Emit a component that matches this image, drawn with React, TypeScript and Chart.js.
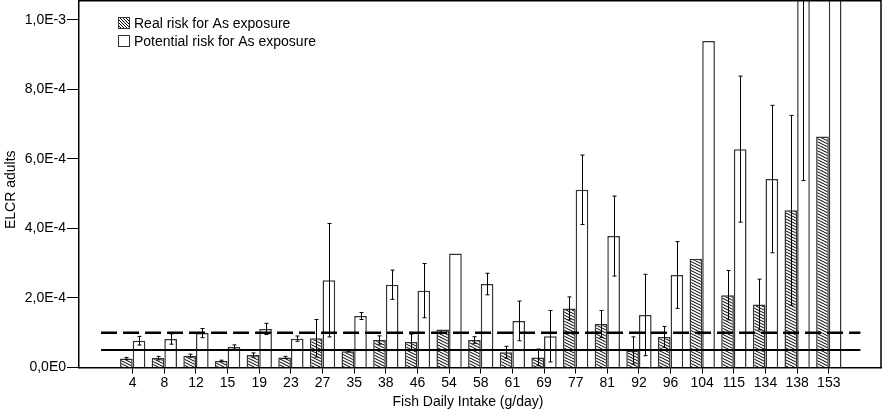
import React, { useEffect, useRef } from 'react';
import { Chart, registerables } from 'chart.js';

Chart.register(...registerables);

// ---------------- data ----------------
const categories = ['4', '8', '12', '15', '19', '23', '27', '35', '38', '46', '54', '58', '61', '69', '77', '81', '92', '96', '104', '115', '134', '138', '153'];

const realRisk = [2.6e-5, 2.7e-5, 3.4e-5, 1.9e-5, 3.6e-5, 2.9e-5, 8.4e-5, 4.7e-5, 7.9e-5, 7.3e-5, 1.09e-4, 7.9e-5, 4.4e-5, 2.9e-5, 1.70e-4, 1.25e-4, 4.9e-5, 8.8e-5, 3.13e-4, 2.08e-4, 1.81e-4, 4.52e-4, 6.64e-4];
const realErr: (number | null)[] = [0.3e-5, 0.5e-5, 0.45e-5, 0.2e-5, 0.6e-5, 0.3e-5, 5.4e-5, 0.2e-5, 1.2e-5, 2.3e-5, null, 0.95e-5, 1.7e-5, 2.4e-5, 3.3e-5, 3.9e-5, 3.9e-5, 3.0e-5, null, 7.1e-5, 7.3e-5, 2.73e-4, null];

const potentialRisk = [7.7e-5, 8.2e-5, 9.9e-5, 5.9e-5, 1.11e-4, 8.3e-5, 2.51e-4, 1.48e-4, 2.38e-4, 2.21e-4, 3.28e-4, 2.40e-4, 1.34e-4, 9.0e-5, 5.11e-4, 3.78e-4, 1.51e-4, 2.66e-4, 9.39e-4, 6.28e-4, 5.42e-4, 1.25e-3, 1.6e-3];
const potentialErr: (number | null)[] = [1.25e-5, 1.5e-5, 1.3e-5, 0.6e-5, 1.6e-5, 0.75e-5, 1.63e-4, 1.0e-5, 4.2e-5, 7.8e-5, null, 3.1e-5, 5.7e-5, 7.4e-5, 1.0e-4, 1.15e-4, 1.17e-4, 9.6e-5, null, 2.1e-4, 2.12e-4, 7.12e-4, null];

const yTickValues = [0, 2e-4, 4e-4, 6e-4, 8e-4, 1e-3];
const yMax = 1.054e-3;
const dashedLimit = 1e-4;
const solidLimit = 5e-5;
const limitSpan = [-1, 23];

const legendLabels = ['Real risk for As exposure', 'Potential risk for As exposure'];
const xTitle = 'Fish Daily Intake (g/day)';
const yTitle = 'ELCR adults';

const FONT = "'Liberation Sans', Arial, Helvetica, sans-serif";

function makeHatch(w: number, h: number, lw: number) {
  const c = document.createElement('canvas');
  c.width = w;
  c.height = h;
  const g = c.getContext('2d')!;
  g.fillStyle = '#ffffff';
  g.fillRect(0, 0, w, h);
  g.strokeStyle = '#000000';
  g.lineWidth = lw;
  for (const dy of [-h, 0, h]) {
    g.beginPath();
    g.moveTo(0, dy);
    g.lineTo(w, dy + h);
    g.stroke();
  }
  return g.createPattern(c, 'repeat')!;
}

function fmtExp(v: number) {
  if (Math.abs(v) < 1e-12) return '0,0E0';
  const s = v.toExponential(1); // e.g. 8.0e-4
  const [m, e] = s.split('e');
  return m.replace('.', ',') + 'E' + String(parseInt(e, 10));
}

function zeroPadding(s: any) {
  s.paddingLeft = 0;
  s.paddingRight = 0;
  s.paddingTop = 0;
  s.paddingBottom = 0;
}

export default function App() {
  const ref = useRef<HTMLCanvasElement>(null);

  useEffect(() => {
    const canvas = ref.current!;
    const barHatch = makeHatch(6, 3, 1);
    const legendHatch = makeHatch(3, 3, 1);

    const errorBars = {
      id: 'errorBars',
      afterDatasetsDraw(chart: any) {
        const ctx = chart.ctx;
        const y = chart.scales.y;
        const area = chart.chartArea;
        ctx.save();
        ctx.beginPath();
        ctx.rect(area.left, area.top, area.right - area.left, area.bottom - area.top);
        ctx.clip();
        ctx.strokeStyle = '#000';
        ctx.lineWidth = 1;
        const sets: [number, number[], (number | null)[]][] = [
          [2, realRisk, realErr],
          [3, potentialRisk, potentialErr],
        ];
        for (const [di, vals, errs] of sets) {
          const meta = chart.getDatasetMeta(di);
          meta.data.forEach((bar: any, i: number) => {
            const e = errs[i];
            if (e == null) return;
            const x = Math.round(bar.x) + 0.5;
            const yt = y.getPixelForValue(vals[i] + e);
            const yb = y.getPixelForValue(vals[i] - e);
            ctx.beginPath();
            ctx.moveTo(x, yt);
            ctx.lineTo(x, yb);
            ctx.moveTo(x - 2, yt);
            ctx.lineTo(x + 2, yt);
            ctx.moveTo(x - 2, yb);
            ctx.lineTo(x + 2, yb);
            ctx.stroke();
          });
        }
        ctx.restore();
      },
    };

    const decor = {
      id: 'decor',
      afterDraw(chart: any) {
        const ctx = chart.ctx;
        const a = chart.chartArea;
        ctx.save();
        // frame top and right
        ctx.strokeStyle = '#000';
        ctx.lineWidth = 1.5;
        ctx.beginPath();
        ctx.moveTo(a.left, a.top - 0.25);
        ctx.lineTo(a.right, a.top - 0.25);
        ctx.lineTo(a.right, a.bottom);
        ctx.stroke();
        // legend
        ctx.font = `14px ${FONT}`;
        ctx.textBaseline = 'middle';
        ctx.fillStyle = '#000';
        const lx = a.left + 39;
        const rows = [a.top + 22, a.top + 40];
        rows.forEach((ry, k) => {
          ctx.fillStyle = k === 0 ? legendHatch : '#fff';
          ctx.fillRect(lx, ry - 6, 12, 12);
          ctx.lineWidth = 1;
          ctx.strokeStyle = '#333';
          ctx.strokeRect(lx + 0.5, ry - 5.5, 11, 11);
          ctx.fillStyle = '#000';
          ctx.fillText(legendLabels[k], lx + 16, ry + 1);
        });
        // axis titles
        ctx.textAlign = 'center';
        ctx.fillText(xTitle, a.left + (a.right - a.left) * 0.485, a.bottom + 35);
        ctx.translate(11, a.top + (a.bottom - a.top) * 0.515);
        ctx.rotate(-Math.PI / 2);
        ctx.fillText(yTitle, 0, 0);
        ctx.restore();
      },
    };

    Chart.defaults.font.family = FONT;
    Chart.defaults.font.size = 14;
    Chart.defaults.color = '#000';

    const chart = new Chart(canvas, {
      type: 'bar',
      data: {
        datasets: [
          {
            type: 'line',
            label: 'limit dashed',
            data: limitSpan.map((x) => ({ x, y: dashedLimit })),
            borderColor: '#000',
            borderWidth: 2.5,
            borderDash: [16, 6],
            pointRadius: 0,
            fill: false,
          } as any,
          {
            type: 'line',
            label: 'limit solid',
            data: limitSpan.map((x) => ({ x, y: solidLimit })),
            borderColor: '#000',
            borderWidth: 2,
            pointRadius: 0,
            fill: false,
          } as any,
          {
            label: legendLabels[0],
            data: realRisk.map((v, i) => ({ x: i, y: v })),
            backgroundColor: barHatch as any,
            borderColor: '#333',
            borderWidth: 1.5,
            categoryPercentage: 0.8,
            barPercentage: 1,
          } as any,
          {
            label: legendLabels[1],
            data: potentialRisk.map((v, i) => ({ x: i, y: v })),
            backgroundColor: '#fff',
            borderColor: '#333',
            borderWidth: 1.5,
            categoryPercentage: 0.8,
            barPercentage: 1,
          } as any,
        ],
      },
      options: {
        animation: false,
        responsive: false,
        devicePixelRatio: 1,
        layout: { autoPadding: false, padding: { top: 1, right: 1, left: 0, bottom: 0 } },
        plugins: {
          legend: { display: false },
          tooltip: { enabled: false },
        },
        scales: {
          x: {
            type: 'linear',
            offset: false,
            min: -1.697,
            max: 23.65,
            afterBuildTicks: (s: any) => {
              s.ticks = categories.map((_, i) => ({ value: i }));
            },
            afterFit: (s: any) => {
              s.height = 44.5;
              zeroPadding(s);
            },
            ticks: {
              autoSkip: false,
              maxRotation: 0,
              minRotation: 0,
              padding: 1,
              callback: (v: any) => categories[Math.round(Number(v))] ?? '',
              font: { size: 14 },
            },
            grid: {
              offset: false,
              drawOnChartArea: false,
              drawTicks: true,
              tickLength: 6,
              color: '#000',
              lineWidth: 1,
            },
            border: { display: true, color: '#000', width: 1.5 },
          } as any,
          y: {
            type: 'linear',
            min: 0,
            max: yMax,
            afterBuildTicks: (s: any) => {
              s.ticks = yTickValues.map((v) => ({ value: v }));
            },
            afterFit: (s: any) => {
              s.width = 79;
              zeroPadding(s);
            },
            ticks: {
              padding: 1,
              callback: (v: any) => fmtExp(Number(v)),
              font: { size: 14 },
            },
            grid: {
              drawOnChartArea: false,
              drawTicks: true,
              tickLength: 12,
              color: '#000',
              lineWidth: 1,
            },
            border: { display: true, color: '#000', width: 1.5 },
          } as any,
        },
      },
      plugins: [errorBars, decor],
    });

    return () => chart.destroy();
  }, []);

  return (
    <div style={{ position: 'fixed', left: 0, top: 0, width: 882, height: 412, background: '#fff' }}>
      <canvas ref={ref} width={882} height={412} style={{ display: 'block', width: 882, height: 412 }} />
    </div>
  );
}
